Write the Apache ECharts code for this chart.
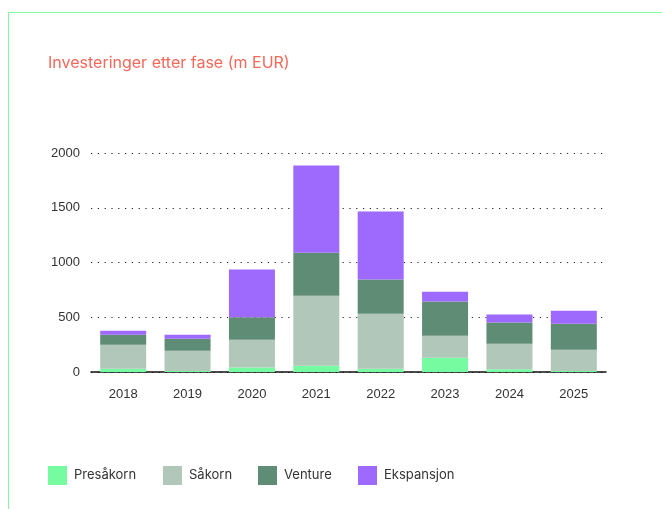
<!DOCTYPE html>
<html>
<head>
<meta charset="utf-8">
<script src="https://cdn.jsdelivr.net/npm/echarts@6/dist/echarts.min.js"></script>
<style>
  html, body { margin: 0; padding: 0; background: #fff; }
  #wrap { position: relative; width: 662px; height: 509px; overflow: hidden; }
  #frame { position: absolute; left: 8px; top: 12px; width: 700px; height: 600px;
           border-top: 1.5px solid #7dfca4; border-left: 1.5px solid #7dfca4; }
  #main { position: absolute; left: 0; top: 0; width: 662px; height: 509px; }
</style>
</head>
<body>
<div id="wrap">
  <div id="frame"></div>
  <div id="main"></div>
</div>
<script>
const years = ['2018', '2019', '2020', '2021', '2022', '2023', '2024', '2025'];
const presakorn = [30, 10, 40, 58, 30, 131, 25, 10];
const sakorn = [220, 185, 255, 639, 503, 201, 234, 194];
const venture = [91, 109, 204, 391, 311, 311, 192, 237];
const ekspansjon = [36, 37, 436, 798, 621, 91, 73, 119];
const yTicks = [0, 500, 1000, 1500, 2000];
const phases = ['Presåkorn', 'Såkorn', 'Venture', 'Ekspansjon'];
const legendX = [48, 163, 258, 358];

const chart = echarts.init(document.getElementById('main'));

function bar(name, data, color) {
    return {
        name: name,
        type: 'bar',
        stack: 'fase',
        barWidth: 46,
        data: data,
        itemStyle: { color: color },
        emphasis: { disabled: true }
    };
}

// one legend per phase so each swatch sits where the original has it
const legends = phases.map((p, i) => ({
    left: legendX[i],
    top: 466,
    padding: 0,
    icon: 'rect',
    itemWidth: 19,
    itemHeight: 19,
    textStyle: { color: '#333', fontSize: 13, fontFamily: 'Inter', padding: [0, 0, 0, 2] },
    data: [p]
}));

chart.setOption({
    animation: false,
    title: {
        text: 'Investeringer etter fase (m EUR)',
        left: 48,
        top: 55,
        padding: 0,
        textStyle: { color: '#f2685a', fontSize: 16, fontWeight: 'normal', fontFamily: 'Inter' }
    },
    legend: legends,
    grid: { left: 91, right: 56, top: 153, bottom: 137 },
    xAxis: {
        type: 'category',
        data: years,
        axisLine: { lineStyle: { color: '#111', width: 1.5 } },
        axisTick: { show: false },
        axisLabel: { color: '#333', fontSize: 13, fontFamily: 'Liberation Sans', margin: 16 }
    },
    yAxis: {
        type: 'value',
        min: 0,
        max: 2000,
        interval: 500,
        axisLine: { show: false },
        axisTick: { show: false },
        axisLabel: {
            color: '#333', fontSize: 13, fontFamily: 'Liberation Sans', margin: 11,
            formatter: v => yTicks.includes(v) ? String(v) : ''
        },
        splitLine: { lineStyle: { color: '#222', width: 1.2, type: [1.2, 5.6] } }
    },
    series: [
        bar(phases[0], presakorn, '#76fba1'),
        bar(phases[1], sakorn, '#b0c7ba'),
        bar(phases[2], venture, '#5f8c74'),
        bar(phases[3], ekspansjon, '#9e6afe')
    ]
});
</script>
</body>
</html>
